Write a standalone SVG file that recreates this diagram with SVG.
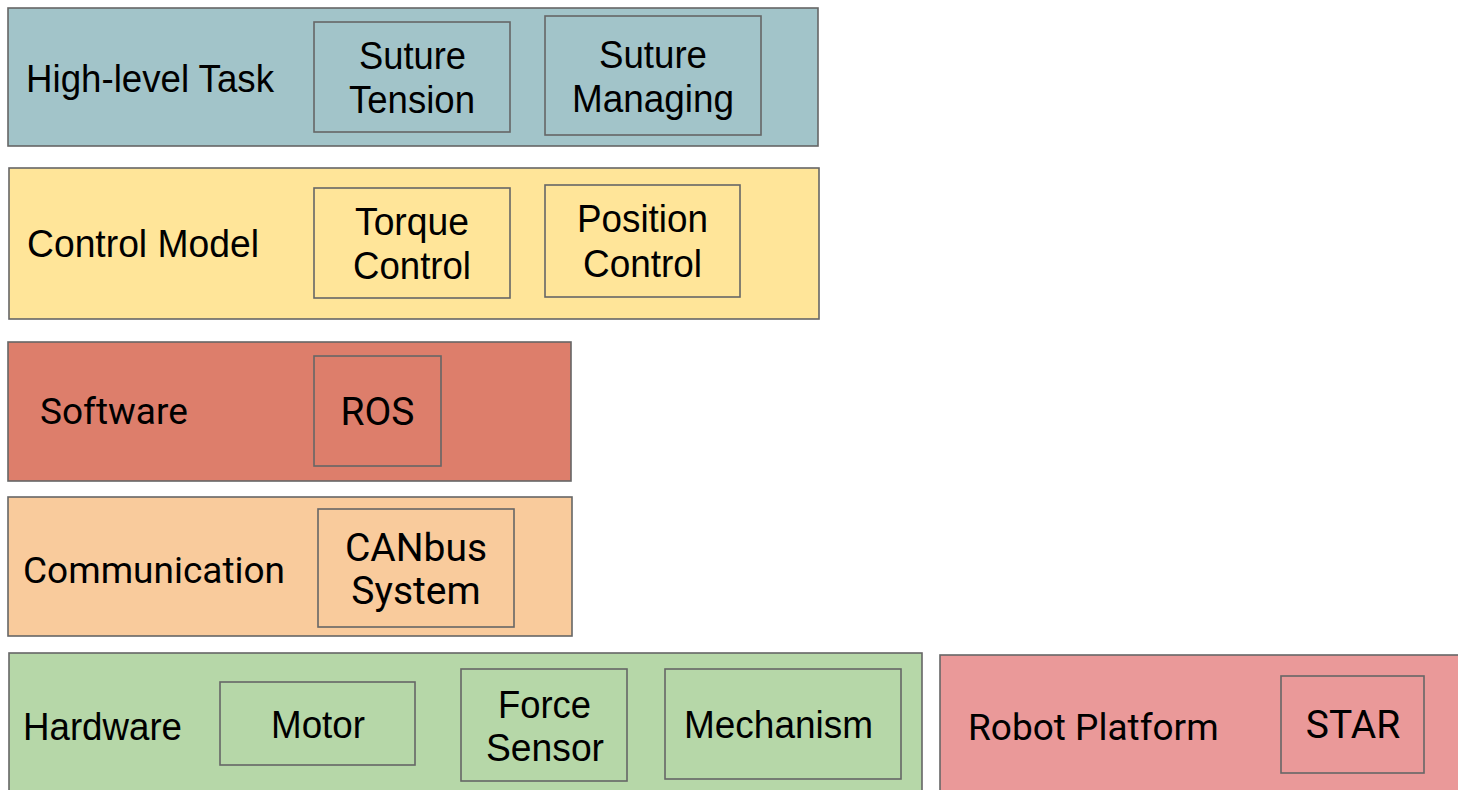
<svg xmlns="http://www.w3.org/2000/svg" width="1458" height="790" viewBox="0 0 1458 790">
  <style>
    rect { stroke: #666666; stroke-width: 1.6; }
    .box { fill: none; }
    text { fill: #000000; }
    .r { font-family: Roboto, "Liberation Sans", sans-serif; font-size: 37px; }
    .ri { font-family: Roboto, "Liberation Sans", sans-serif; font-size: 39px; }
    .n { font-family: "Liberation Sans", Arial, sans-serif; font-size: 38px; }
    .c { text-anchor: middle; }
  </style>

  <!-- High-level task layer -->
  <g id="high-level-task">
    <rect x="8" y="8" width="810" height="138" fill="#a2c4c9"/>
    <text class="n" x="26" y="92" textLength="248" lengthAdjust="spacingAndGlyphs">High-level Task</text>
  </g>
  <g id="suture-tension">
    <rect class="box" x="314" y="22" width="196" height="110"/>
    <text class="n" x="359" y="68.5" textLength="107" lengthAdjust="spacingAndGlyphs">Suture</text>
    <text class="n" x="349" y="112.5" textLength="126" lengthAdjust="spacingAndGlyphs">Tension</text>
  </g>
  <g id="suture-managing">
    <rect class="box" x="545" y="16" width="216" height="119"/>
    <text class="n" x="599" y="68" textLength="108" lengthAdjust="spacingAndGlyphs">Suture</text>
    <text class="n" x="572" y="112" textLength="162" lengthAdjust="spacingAndGlyphs">Managing</text>
  </g>

  <!-- Control model layer -->
  <g id="control-model">
    <rect x="9" y="168" width="810" height="151" fill="#ffe599"/>
    <text class="n" x="27" y="257" textLength="232" lengthAdjust="spacingAndGlyphs">Control Model</text>
  </g>
  <g id="torque-control">
    <rect class="box" x="314" y="188" width="196" height="110"/>
    <text class="n" x="355" y="235" textLength="114" lengthAdjust="spacingAndGlyphs">Torque</text>
    <text class="n" x="353" y="279" textLength="118" lengthAdjust="spacingAndGlyphs">Control</text>
  </g>
  <g id="position-control">
    <rect class="box" x="545" y="185" width="195" height="112"/>
    <text class="n" x="577" y="232" textLength="131" lengthAdjust="spacingAndGlyphs">Position</text>
    <text class="n" x="583" y="277" textLength="119" lengthAdjust="spacingAndGlyphs">Control</text>
  </g>

  <!-- Software layer -->
  <g id="software">
    <rect x="8" y="342" width="563" height="139" fill="#dd7e6b"/>
    <text class="r" x="40" y="424">Software</text>
  </g>
  <g id="ros">
    <rect class="box" x="314" y="356" width="127" height="110"/>
    <text class="ri c" x="377.5" y="425">ROS</text>
  </g>

  <!-- Communication layer -->
  <g id="communication">
    <rect x="8" y="497" width="564" height="139" fill="#f9cb9c"/>
    <text class="r" x="23" y="583">Communication</text>
  </g>
  <g id="canbus-system">
    <rect class="box" x="318" y="509" width="196" height="118"/>
    <text class="ri c" x="416" y="561">CANbus</text>
    <text class="ri c" x="416" y="604">System</text>
  </g>

  <!-- Hardware layer -->
  <g id="hardware">
    <rect x="9" y="653" width="913" height="150" fill="#b6d7a8"/>
    <text class="n" x="23" y="740" textLength="159" lengthAdjust="spacingAndGlyphs">Hardware</text>
  </g>
  <g id="motor">
    <rect class="box" x="220" y="682" width="195" height="83"/>
    <text class="n" x="271" y="738" textLength="94" lengthAdjust="spacingAndGlyphs">Motor</text>
  </g>
  <g id="force-sensor">
    <rect class="box" x="461" y="669" width="166" height="112"/>
    <text class="n" x="498" y="718" textLength="93" lengthAdjust="spacingAndGlyphs">Force</text>
    <text class="n" x="486" y="761" textLength="118" lengthAdjust="spacingAndGlyphs">Sensor</text>
  </g>
  <g id="mechanism">
    <rect class="box" x="665" y="669" width="236" height="110"/>
    <text class="n" x="684" y="738" textLength="189" lengthAdjust="spacingAndGlyphs">Mechanism</text>
  </g>

  <!-- Robot platform layer -->
  <g id="robot-platform">
    <rect x="940" y="655" width="530" height="150" fill="#ea9999"/>
    <text class="r" x="968" y="740">Robot Platform</text>
  </g>
  <g id="star">
    <rect class="box" x="1281" y="676" width="143" height="97"/>
    <text class="ri c" x="1353" y="738">STAR</text>
  </g>

  <!-- no connectors in this layer stack -->
  <g id="connectors"/>
</svg>
